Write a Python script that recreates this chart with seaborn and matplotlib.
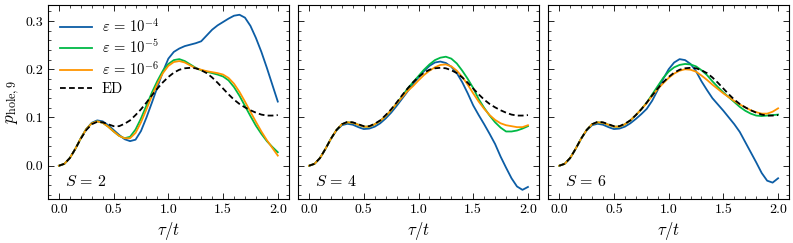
import numpy as np
import pandas as pd
import matplotlib
matplotlib.use("Agg")
import matplotlib.pyplot as plt
import seaborn as sns
from matplotlib.ticker import MultipleLocator

# ---------------- data ----------------
t = [0.00, 0.05, 0.10, 0.15, 0.20, 0.25, 0.30, 0.35, 0.40, 0.45,
     0.50, 0.55, 0.60, 0.65, 0.70, 0.75, 0.80, 0.85, 0.90, 0.95,
     1.00, 1.05, 1.10, 1.15, 1.20, 1.25, 1.30, 1.35, 1.40, 1.45,
     1.50, 1.55, 1.60, 1.65, 1.70, 1.75, 1.80, 1.85, 1.90, 1.95, 2.00]

ed = [0.000, 0.004, 0.016, 0.035, 0.056, 0.074, 0.086, 0.091, 0.090, 0.086,
      0.082, 0.082, 0.087, 0.094, 0.105, 0.117, 0.131, 0.146, 0.160, 0.173,
      0.184, 0.193, 0.199, 0.202, 0.203, 0.202, 0.198, 0.192, 0.183, 0.172,
      0.160, 0.148, 0.137, 0.128, 0.121, 0.115, 0.110, 0.106, 0.104, 0.104, 0.105]

# S = 2
s2_e4 = [0.000, 0.004, 0.016, 0.035, 0.057, 0.076, 0.089, 0.094, 0.092, 0.084,
         0.074, 0.064, 0.055, 0.051, 0.054, 0.072, 0.100, 0.131, 0.163, 0.195,
         0.222, 0.236, 0.243, 0.248, 0.251, 0.254, 0.258, 0.270, 0.282, 0.291,
         0.298, 0.305, 0.311, 0.313, 0.307, 0.290, 0.265, 0.236, 0.203, 0.168, 0.133]
s2_e5 = [0.000, 0.004, 0.016, 0.035, 0.057, 0.076, 0.088, 0.092, 0.089, 0.081,
         0.071, 0.062, 0.057, 0.060, 0.075, 0.098, 0.125, 0.152, 0.176, 0.197,
         0.211, 0.219, 0.221, 0.217, 0.210, 0.203, 0.198, 0.195, 0.192, 0.189,
         0.185, 0.177, 0.163, 0.145, 0.124, 0.103, 0.083, 0.066, 0.051, 0.039, 0.028]
s2_e6 = [0.000, 0.004, 0.016, 0.035, 0.057, 0.076, 0.088, 0.092, 0.089, 0.081,
         0.071, 0.062, 0.057, 0.057, 0.068, 0.090, 0.117, 0.145, 0.170, 0.192,
         0.207, 0.215, 0.217, 0.214, 0.208, 0.202, 0.199, 0.196, 0.194, 0.192,
         0.189, 0.182, 0.170, 0.153, 0.133, 0.112, 0.091, 0.071, 0.053, 0.037, 0.021]

# S = 4
s4_e4 = [0.000, 0.004, 0.016, 0.035, 0.056, 0.073, 0.084, 0.087, 0.085, 0.080,
         0.076, 0.077, 0.081, 0.088, 0.098, 0.110, 0.124, 0.139, 0.154, 0.169,
         0.183, 0.196, 0.207, 0.214, 0.216, 0.213, 0.205, 0.192, 0.173, 0.150,
         0.125, 0.105, 0.086, 0.066, 0.045, 0.019, -0.004, -0.026, -0.043, -0.050, -0.044]
s4_e5 = [0.000, 0.004, 0.016, 0.035, 0.056, 0.074, 0.086, 0.090, 0.089, 0.085,
         0.081, 0.081, 0.086, 0.093, 0.103, 0.115, 0.129, 0.144, 0.160, 0.173,
         0.186, 0.199, 0.210, 0.219, 0.224, 0.226, 0.222, 0.212, 0.197, 0.180,
         0.161, 0.138, 0.120, 0.104, 0.090, 0.079, 0.071, 0.071, 0.073, 0.077, 0.082]
s4_e6 = [0.000, 0.004, 0.016, 0.035, 0.056, 0.074, 0.086, 0.090, 0.089, 0.085,
         0.081, 0.081, 0.086, 0.093, 0.103, 0.115, 0.129, 0.142, 0.155, 0.165,
         0.177, 0.188, 0.197, 0.204, 0.209, 0.210, 0.206, 0.197, 0.184, 0.168,
         0.150, 0.133, 0.118, 0.105, 0.095, 0.088, 0.084, 0.082, 0.080, 0.080, 0.084]

# S = 6
s6_e4 = [0.000, 0.004, 0.016, 0.035, 0.056, 0.073, 0.084, 0.087, 0.085, 0.080,
         0.076, 0.077, 0.081, 0.088, 0.097, 0.107, 0.118, 0.135, 0.157, 0.180,
         0.200, 0.214, 0.221, 0.219, 0.211, 0.196, 0.175, 0.157, 0.140, 0.127,
         0.114, 0.100, 0.086, 0.070, 0.049, 0.028, 0.007, -0.015, -0.031, -0.035, -0.026]
s6_e5 = [0.000, 0.004, 0.016, 0.035, 0.056, 0.074, 0.086, 0.090, 0.089, 0.085,
         0.081, 0.081, 0.086, 0.094, 0.105, 0.117, 0.131, 0.148, 0.165, 0.182,
         0.195, 0.204, 0.209, 0.211, 0.210, 0.206, 0.198, 0.188, 0.175, 0.163,
         0.152, 0.142, 0.132, 0.122, 0.114, 0.108, 0.104, 0.103, 0.104, 0.105, 0.106]
s6_e6 = [0.000, 0.004, 0.016, 0.035, 0.056, 0.074, 0.086, 0.090, 0.089, 0.085,
         0.081, 0.081, 0.086, 0.094, 0.105, 0.117, 0.130, 0.145, 0.159, 0.171,
         0.182, 0.191, 0.197, 0.200, 0.199, 0.195, 0.187, 0.178, 0.168, 0.159,
         0.150, 0.142, 0.134, 0.127, 0.121, 0.115, 0.111, 0.108, 0.108, 0.112, 0.119]

panel_labels = [r"$S\,=\,2$", r"$S\,=\,4$", r"$S\,=\,6$"]
series_labels = [r"$\varepsilon\,=\,10^{-4}$", r"$\varepsilon\,=\,10^{-5}$", r"$\varepsilon\,=\,10^{-6}$"]
panels = [[s2_e4, s2_e5, s2_e6], [s4_e4, s4_e5, s4_e6], [s6_e4, s6_e5, s6_e6]]
colors = ["#0C5DA5", "#00B945", "#FF9500"]
ed_label = "ED"

# ---------------- style ----------------
plt.rcParams.update({
    "font.family": ["cmr10", "DejaVu Serif"],
    "mathtext.fontset": "cm",
    "axes.formatter.use_mathtext": True,
    "axes.unicode_minus": True,
    "font.size": 10,
    "axes.linewidth": 0.8,
    "xtick.direction": "in",
    "ytick.direction": "in",
    "xtick.top": True,
    "ytick.right": True,
    "xtick.major.size": 4,
    "ytick.major.size": 4,
    "xtick.minor.size": 2,
    "ytick.minor.size": 2,
    "xtick.major.width": 0.6,
    "ytick.major.width": 0.6,
    "xtick.minor.width": 0.5,
    "ytick.minor.width": 0.5,
    "xtick.minor.visible": True,
    "ytick.minor.visible": True,
    "legend.frameon": False,
})

fig, axes = plt.subplots(1, 3, figsize=(7.93, 2.43), dpi=100, sharey=True)
fig.subplots_adjust(left=0.0605, right=0.995, bottom=0.181, top=0.979, wspace=0.039)

dash = (0, (3.2, 1.8))
for i, ax in enumerate(axes):
    rows = []
    for lab, vals in zip(series_labels, panels[i]):
        for tt, v in zip(t, vals):
            rows.append({"t": tt, "p": v, "label": lab})
    df = pd.DataFrame(rows)
    sns.lineplot(data=df, x="t", y="p", hue="label", palette=colors,
                 hue_order=series_labels, ax=ax, linewidth=1.3, legend=False)
    df_ed = pd.DataFrame({"t": t, "p": ed})
    sns.lineplot(data=df_ed, x="t", y="p", ax=ax, color="black",
                 linestyle=dash, linewidth=1.3, legend=False)
    ax.set_xlim(-0.1, 2.1)
    ax.xaxis.set_major_locator(MultipleLocator(0.5))
    ax.xaxis.set_minor_locator(MultipleLocator(0.1))
    ax.yaxis.set_major_locator(MultipleLocator(0.1))
    ax.yaxis.set_minor_locator(MultipleLocator(0.02))
    ax.xaxis.set_major_formatter(matplotlib.ticker.FormatStrFormatter("%.1f"))
    ax.yaxis.set_major_formatter(matplotlib.ticker.FormatStrFormatter("%.1f"))
    ax.set_xlabel(r"$\tau/t$", fontsize=12, labelpad=3)
    ax.set_ylabel("")
    ax.text(0.07, 0.065, panel_labels[i], transform=ax.transAxes, fontsize=11.5)
    if i > 0:
        ax.tick_params(labelleft=False)

axes[0].set_ylim(-0.069, 0.333)
axes[0].set_ylabel(r"$p_{\mathrm{hole},9}$", fontsize=12.5, labelpad=2)

handles = [plt.Line2D([], [], color=c, lw=1.3) for c in colors]
handles.append(plt.Line2D([], [], color="black", lw=1.3, linestyle=dash))
axes[0].legend(handles, series_labels + [ed_label], loc="upper left",
               fontsize=10.5, handlelength=2.2, handletextpad=0.7,
               labelspacing=0.28, borderaxespad=0.5, borderpad=0.3)

fig.savefig("out.png", dpi=100)
